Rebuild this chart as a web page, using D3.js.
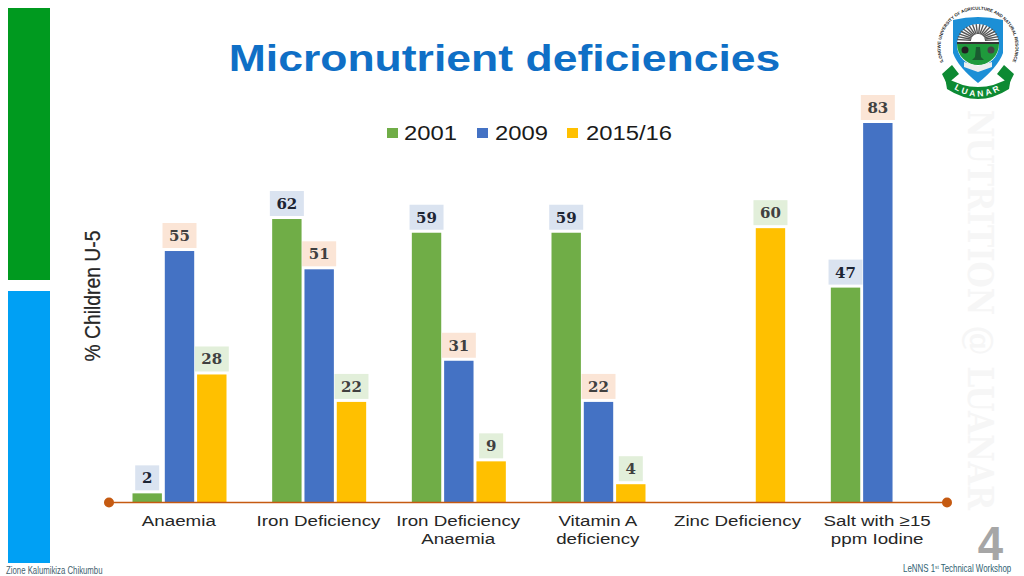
<!DOCTYPE html>
<html><head><meta charset="utf-8">
<script src="https://cdn.jsdelivr.net/npm/d3@7/dist/d3.min.js"></script>
<style>html,body{margin:0;padding:0;background:#fff}svg{display:block}</style>
</head><body><svg id="c" width="1024" height="576"></svg>
<script>
const categories=[["Anaemia"],["Iron Deficiency"],["Iron Deficiency","Anaemia"],["Vitamin A","deficiency"],["Zinc Deficiency"],["Salt with ≥15","ppm Iodine"]];
const seriesNames=["2001","2009","2015/16"];
const values2001=[2,62,59,59,null,47];
const values2009=[55,51,31,22,null,83];
const values2015=[28,22,9,4,60,null];
const seriesColors=["#70ad47","#4472c4","#ffc000"];
const labelBg=["#dae3f0","#fbe5d6","#e2efda"];
const labelInk=["#1c2433","#404040","#404040"];
const sans="'Liberation Sans',Arial,sans-serif", serif="'DejaVu Serif',serif", narrow="'Liberation Sans Narrow','Liberation Sans',sans-serif";
const svg=d3.select("#c");
const all=[values2001,values2009,values2015];

svg.append("rect").attr("x",8).attr("y",8).attr("width",42).attr("height",272).attr("fill","#009a1f");
svg.append("rect").attr("x",8).attr("y",291).attr("width",42).attr("height",272).attr("fill","#00a0f4");

svg.append("text").attr("transform","translate(504.5,71) scale(1.22,1)").attr("text-anchor","middle")
  .attr("font-family",sans).attr("font-weight",700).attr("font-size",36.5).attr("fill","#0f6fc6").text("Micronutrient deficiencies");

// watermark
svg.append("text").attr("transform","translate(968,110) rotate(90)")
  .attr("font-family",serif).attr("font-weight",700).attr("font-size",35)
  .attr("textLength",400).attr("lengthAdjust","spacingAndGlyphs").attr("fill","#f6f6f6").text("NUTRITION @ LUANAR");

// scales
const x0=d3.scaleBand().domain(d3.range(categories.length)).range([109,947]);
const x1=d3.scaleBand().domain(d3.range(3)).range([23.5,117.5]).paddingInner(0.09).paddingOuter(0);
const y=d3.scaleLinear().domain([0,83]).range([502.5,123]);

// bars and labels
all.forEach((vals,s)=>{
  const g=svg.append("g");
  const pts=vals.map((v,i)=>({v,i})).filter(d=>d.v!==null);
  g.selectAll("rect").data(pts).join("rect")
    .attr("x",d=>x0(d.i)+x1(s)).attr("width",x1.bandwidth())
    .attr("y",d=>y(d.v)).attr("height",d=>y(0)-y(d.v)).attr("fill",seriesColors[s]);
  const lab=svg.append("g").selectAll("g").data(pts).join("g")
    .attr("transform",d=>`translate(${x0(d.i)+x1(s)+x1.bandwidth()/2},${y(d.v)-15.5})`);
  lab.append("rect").attr("x",d=>d.v<10?-12:-17).attr("y",-12.5).attr("width",d=>d.v<10?24:34).attr("height",25)
    .attr("fill",labelBg[s]);
  lab.append("text").attr("text-anchor","middle").attr("y",5.5)
    .attr("font-family",serif).attr("font-weight",700).attr("font-size",15)
    .attr("fill",labelInk[s]).text(d=>d.v);
});

// axis
const ax=svg.append("g");
ax.append("line").attr("x1",x0.range()[0]).attr("x2",x0.range()[1]).attr("y1",y(0)).attr("y2",y(0))
  .attr("stroke","#c55a11").attr("stroke-width",1.5);
ax.selectAll("circle").data(x0.range()).join("circle").attr("cx",d=>d).attr("cy",y(0)).attr("r",5).attr("fill","#c55a11");
categories.forEach((lines,i)=>{
  svg.append("g").selectAll("text").data(lines).join("text")
    .attr("transform",(d,j)=>`translate(${x0(i)+x0.bandwidth()/2},${526+j*17.5}) scale(1.21,1)`)
    .attr("font-family",sans).attr("font-size",15.5).attr("fill","#262626").attr("text-anchor","middle").text(d=>d);
});

// y title
svg.append("text").attr("transform","translate(100,296) rotate(-90)").attr("text-anchor","middle")
  .attr("font-family",sans).attr("font-size",22).attr("textLength",131).attr("lengthAdjust","spacingAndGlyphs")
  .attr("fill","#262626").attr("stroke","#262626").attr("stroke-width",0.25).text("% Children U-5");

// legend
const legX=[387,477,567], legTx=[404,495,586];
seriesNames.forEach((n,i)=>{
  svg.append("rect").attr("x",legX[i]).attr("y",128).attr("width",11).attr("height",10).attr("fill",seriesColors[i]);
  svg.append("text").attr("transform",`translate(${legTx[i]},140) scale(1.19,1)`).attr("font-family",sans).attr("font-size",20).attr("fill","#1a1a1a").text(n);
});

// footer
svg.append("text").attr("transform","translate(6,574) scale(0.78,1)").attr("font-family",narrow).attr("font-size",10).attr("fill","#44606e").text("Zione Kalumikiza Chikumbu");
const ft=svg.append("text").attr("transform","translate(903,571.5) scale(0.79,1)").attr("font-family",narrow).attr("font-size",10).attr("fill","#2f6272");
ft.append("tspan").text("LeNNS 1");
ft.append("tspan").attr("font-size",6).attr("dy",-3).text("st");
ft.append("tspan").attr("dy",3).text(" Technical Workshop");
svg.append("text").attr("transform","translate(990.5,560) scale(0.95,1)").attr("text-anchor","middle").attr("font-family",narrow).attr("font-weight",700).attr("font-size",48).attr("fill","#a6a6a6").text("4");

// logo
const logo=svg.append("g").attr("transform","translate(978,47)");
logo.append("defs").append("path").attr("id","ring").attr("d","M -34 16 A 37.5 37.5 0 1 1 34 16");
logo.append("text").attr("font-family",sans).attr("font-weight",700).attr("font-size",4.4).attr("fill","#222")
  .append("textPath").attr("href","#ring").attr("startOffset","50%").attr("text-anchor","middle")
  .text("LILONGWE UNIVERSITY OF AGRICULTURE AND NATURAL RESOURCES");
logo.append("path").attr("d","M-25,-27 Q0,-33 25,-27 L25,6 Q20,20 0,36 Q-20,20 -25,6 Z").attr("fill","#1c8fd6");
logo.append("circle").attr("cx",0).attr("cy",-2).attr("r",21).attr("fill","#fff");
logo.selectAll("line.ray").data(d3.range(-85,86,10)).join("line")
  .attr("x1",d=>7*Math.sin(d*Math.PI/180)).attr("y1",d=>-6-7*Math.cos(d*Math.PI/180))
  .attr("x2",d=>21*Math.sin(d*Math.PI/180)).attr("y2",d=>-6-17*Math.cos(d*Math.PI/180))
  .attr("stroke","#555").attr("stroke-width",1.4);
logo.append("path").attr("d","M-21,-5 L21,-5 L21,-3 L-21,-3 Z").attr("fill","#333");
logo.append("path").attr("d","M-21,-3 L21,-3 A21,21 0 0 1 -21,-3 Z").attr("fill","#1f9a3c");
logo.append("circle").attr("cx",-13).attr("cy",3).attr("r",3.5).attr("fill","#222");
logo.append("circle").attr("cx",13).attr("cy",3).attr("r",3.5).attr("fill","#444");
logo.append("path").attr("d","M-2,0 L2,0 L3,10 L6,13 L-6,13 L-3,10 Z").attr("fill","#1a5a30");
logo.append("path").attr("d","M-14,15 L0,19 L14,15 L14,20 L0,25 L-14,20 Z").attr("fill","#eee");
logo.append("path").attr("d","M-33,30 Q0,50 33,30 L31,42 Q0,62 -31,42 Z").attr("fill","#0d8a33");
logo.append("path").attr("d","M-36,27 L-26,18 L-19,27 L-31,37 Z M36,27 L26,18 L19,27 L31,37 Z").attr("fill","#0d8a33");
logo.append("path").attr("id","rib").attr("d","M-27,40 Q0,59 27,40").attr("fill","none");
logo.append("text").attr("font-family",sans).attr("font-weight",700).attr("font-size",8.5).attr("fill","#fff").attr("letter-spacing",2.5)
  .append("textPath").attr("href","#rib").attr("startOffset","50%").attr("text-anchor","middle").text("LUANAR");
</script></body></html>
